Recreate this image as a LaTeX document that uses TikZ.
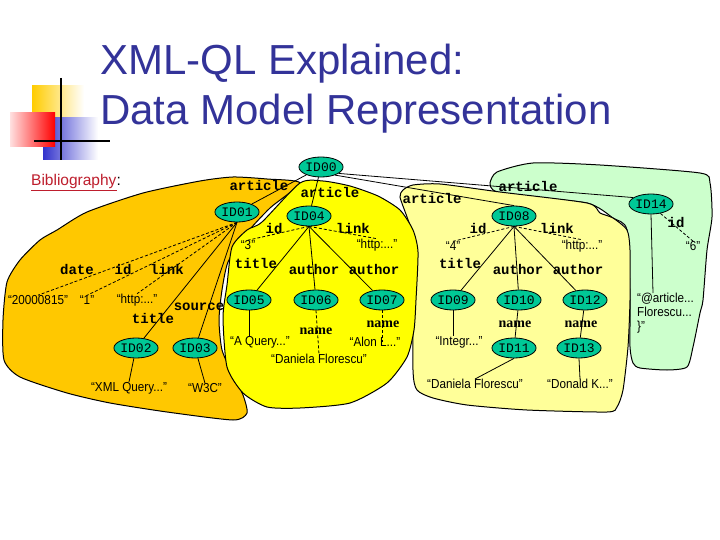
\documentclass[tikz,border=0pt]{standalone}
\usepackage{fontspec}
\setmainfont{Liberation Sans}
\newfontfamily\valfont[FakeStretch=0.9]{Liberation Sans}
\newfontfamily\monofont{Liberation Mono}
\newfontfamily\serfont{Liberation Serif}
\usetikzlibrary{shapes.geometric,calc}
\definecolor{orng}{RGB}{255,200,0}
\definecolor{ylw}{RGB}{255,255,0}
\definecolor{lylw}{RGB}{255,255,153}
\definecolor{lgrn}{RGB}{204,255,204}
\definecolor{idgrn}{RGB}{0,200,150}
\definecolor{ttl}{RGB}{51,51,153}
\definecolor{bibred}{RGB}{190,30,45}
\definecolor{decoY}{RGB}{255,204,0}
\definecolor{decoR}{RGB}{255,0,0}
\definecolor{decoB}{RGB}{51,51,204}
\pgfdeclarelayer{regions}
\pgfdeclarelayer{edges}
\pgfsetlayers{regions,edges,main}
\begin{document}
\begin{tikzpicture}[x=1pt,y=-1pt,
  idn/.style={ellipse, draw=black, line width=0.8pt, fill=idgrn, minimum width=42pt, minimum height=20pt, inner sep=0pt, font=\monofont\fontsize{13}{13}\selectfont},
  lbl/.style={font=\monofont\bfseries\fontsize{14}{14}\selectfont, inner sep=0pt},
  val/.style={font=\valfont\fontsize{13}{14}\selectfont, inner sep=0pt},
  nm/.style={font=\serfont\bfseries\fontsize{14}{14}\selectfont, inner sep=0pt},
  region/.style={draw=black, line width=1pt},
  edge/.style={draw=black, line width=0.8pt},
  dedge/.style={draw=black, line width=0.8pt, dash pattern=on 3pt off 2pt},
  ttlfont/.style={anchor=base west, inner sep=0pt, text=ttl, font=\fontsize{42}{42}\selectfont}]
\useasboundingbox (0,0) rectangle (720,540);

\begin{pgfonlayer}{regions}
\fill[white] (0,0) rectangle (720,540);
% decoration
\shade[left color=decoY, middle color=decoY, right color=white] (32,86) rectangle (84,120);
\shade[left color=decoB, middle color=decoB!85, right color=white] (43,118) rectangle (98,160);
\shade[left color=decoR!12, right color=decoR] (10,113) rectangle (55,147);
\draw[line width=2pt] (61,78) -- (61,160);
\draw[line width=1.5pt] (34,141) -- (110,141);
% regions
\filldraw[region, fill=lgrn] plot[smooth cycle, tension=0.4] coordinates {
 (490,183) (497,172) (533,163) (600,165) (700,173) (710,183) (712,217) (707,250)
 (703,300) (700,313) (693,347) (687,367) (667,370) (640,368) (633,363) (630,347)
 (630,300) (627,230) (613,218) (587,203) (510,195) (493,190)};
\filldraw[region, fill=lylw] plot[smooth cycle, tension=0.4] coordinates {
 (403,190) (413,185) (440,184) (500,192) (587,203) (600,213) (613,218) (627,230)
 (630,250) (630,300) (628,347) (623,390) (617,407) (607,412) (527,410) (467,405)
 (433,398) (417,390) (413,370) (413,280) (413,237) (407,217) (400,197)};
\filldraw[region, fill=orng] plot[smooth cycle, tension=0.4] coordinates {
 (300,183) (267,179) (233,177) (200,181) (143,193) (87,212) (57,230) (40,240)
 (20,260) (7,282) (3,320) (4,360) (20,377) (67,393) (110,403) (167,412) (233,420)
 (247,413) (243,395) (233,375) (222,350) (219,320) (222,290) (228,262) (245,235)
 (270,208)};
\filldraw[region, fill=ylw] plot[smooth cycle, tension=0.4] coordinates {
 (300,183) (323,181) (350,186) (378,196) (400,210) (413,230) (418,252) (416,300)
 (414,330) (407,357) (387,383) (350,403) (300,408) (267,407) (243,393) (227,367)
 (223,317) (227,285) (232,247) (247,230) (262,222)};
\end{pgfonlayer}

% title
\node[ttlfont] (t1) at (100,75) {XML-QL Explained:};
\node[ttlfont] (t2) at (100,125) {Data Model Representation};
\node[anchor=base west, inner sep=0pt, font=\fontsize{15.5}{15.5}\selectfont] (bib) at (31,186) {\textcolor{bibred}{\underline{Bibliography}}:};

% ID nodes
\node[idn] (ID00) at (321,167) {ID00};
\node[idn] (ID01) at (237,212) {ID01};
\node[idn] (ID04) at (309,216) {ID04};
\node[idn] (ID08) at (514,216) {ID08};
\node[idn] (ID14) at (651,204) {ID14};
\node[idn] (ID02) at (136,348) {ID02};
\node[idn] (ID03) at (195,348) {ID03};
\node[idn] (ID05) at (249,300) {ID05};
\node[idn] (ID06) at (316,300) {ID06};
\node[idn] (ID07) at (382,300) {ID07};
\node[idn] (ID09) at (453,300) {ID09};
\node[idn] (ID10) at (519,300) {ID10};
\node[idn] (ID12) at (585,300) {ID12};
\node[idn] (ID11) at (514,348) {ID11};
\node[idn] (ID13) at (579,348) {ID13};

% value nodes
\node[val] (vdate) at (38,300) {“20000815”};
\node[val] (vone) at (87,300) {“1”};
\node[val] (vhA) at (137,300) {“http:...”};
\node[val] (vXML) at (129,388) {“XML Query...”};
\node[val] (vW3C) at (205,388) {“W3C”};
\node[val] (vthree) at (248,245) {“3”};
\node[val] (vhB) at (377,245) {“http:...”};
\node[val] (vAQ) at (260,342) {“A Query...”};
\node[val] (vDF1) at (319,359) {“Daniela Florescu”};
\node[val] (vAlon) at (375,342) {“Alon L...”};
\node[val] (vfour) at (453,246) {“4”};
\node[val] (vhC) at (582,246) {“http:...”};
\node[val] (vInt) at (459,342) {“Integr...”};
\node[val] (vDF2) at (475,384) {“Daniela Florescu”};
\node[val] (vDon) at (580,384) {“Donald K...”};
\node[val] (vsix) at (693,246) {“6”};
\node[val, align=left, anchor=north west] (vBib) at (637,293) {“@article...\\Florescu...\\\}”};

% edges (behind nodes)
\begin{pgfonlayer}{edges}
\draw[edge] (ID00) -- (ID01);
\draw[edge] (ID00) -- (ID04);
\draw[edge] (ID00.-30) -- (ID08.north);
\draw[edge] (ID00.-20) -- (ID14.160);
\draw[dedge] (ID01.south) -- (vdate.north);
\draw[dedge] (ID01.south) -- (vone.north);
\draw[dedge] (ID01.south) -- (vhA.north);
\draw[edge] (ID01.south) -- (ID02);
\draw[edge] (ID01.south) -- (ID03);
\draw[edge] (ID02) -- (vXML.north);
\draw[edge] (ID03) -- (vW3C.north);
\draw[dedge] (ID04.south) -- (vthree.north);
\draw[dedge] (ID04.south) -- (vhB.north);
\draw[edge] (ID04.south) -- (ID05);
\draw[edge] (ID04.south) -- (ID06);
\draw[edge] (ID04.south) -- (ID07);
\draw[edge] (ID05.south) -- (ID05.south |- vAQ.north);
\draw[dedge] (ID06.south) -- (vDF1.north);
\draw[dedge] (ID07.south) -- (ID07.south |- vAlon.center);
\draw[dedge] (ID08.south) -- (vfour.north);
\draw[dedge] (ID08.south) -- (vhC.north);
\draw[edge] (ID08.south) -- (ID09);
\draw[edge] (ID08.south) -- (ID10);
\draw[edge] (ID08.south) -- (ID12);
\draw[edge] (ID09.south) -- (ID09.south |- vInt.north);
\draw[edge] (ID10) -- (ID11);
\draw[edge] (ID12) -- (ID13);
\draw[edge] (ID11.south) -- (vDF2.north);
\draw[edge] (ID13.south) -- (vDon.north);
\draw[dedge] (ID14.-45) -- (vsix.north);
\draw[edge] (ID14.south) -- ([xshift=16pt]vBib.north west);
\end{pgfonlayer}

% edge labels
\node[lbl] (la1) at (259,185) {article};
\node[lbl] (la2) at (330,192) {article};
\node[lbl] (la3) at (432,198) {article};
\node[lbl] (la4) at (528,186) {article};
\node[lbl] (lb1) at (77,269) {date};
\node[lbl] (lb2) at (123,269) {id};
\node[lbl] (lb3) at (167,269) {link};
\node[lbl] (lb4) at (153,318) {title};
\node[lbl] (lb5) at (199,307) {source};
\node[lbl] (lc1) at (274,228) {id};
\node[lbl] (lc2) at (353,228) {link};
\node[lbl] (lc3) at (256,263) {title};
\node[lbl] (lc4) at (314,269) {author};
\node[lbl] (lc5) at (374,269) {author};
\node[lbl] (ld1) at (478,228) {id};
\node[lbl] (ld2) at (557,228) {link};
\node[lbl] (ld3) at (460,263) {title};
\node[lbl] (ld4) at (518,269) {author};
\node[lbl] (ld5) at (578,269) {author};
\node[lbl] (le1) at (676,222) {id};
\node[nm] (ln1) at (316,331) {name};
\node[nm] (ln2) at (383,324) {name};
\node[nm] (ln3) at (515,324) {name};
\node[nm] (ln4) at (581,324) {name};
\end{tikzpicture}
\end{document}
